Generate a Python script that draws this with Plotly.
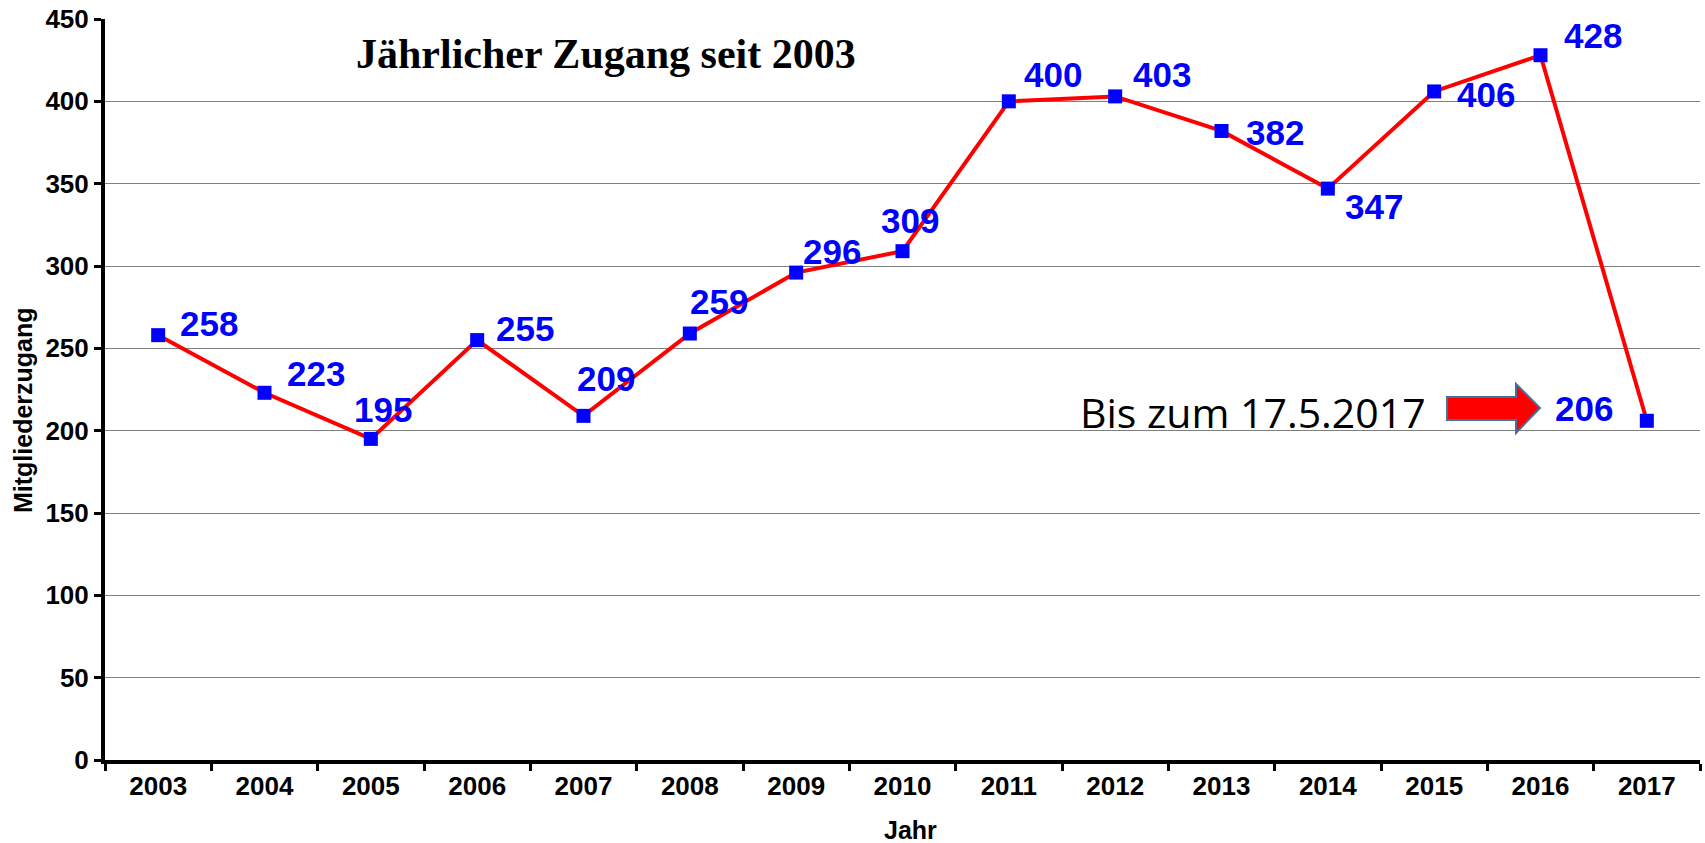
import plotly.graph_objects as go

years = ["2003", "2004", "2005", "2006", "2007", "2008", "2009", "2010",
         "2011", "2012", "2013", "2014", "2015", "2016", "2017"]
zugang = [258, 223, 195, 255, 209, 259, 296, 309, 400, 403, 382, 347, 406, 428, 206]
y_ticks = [0, 50, 100, 150, 200, 250, 300, 350, 400, 450]

title_text = "Jährlicher Zugang seit 2003"
note_text = "Bis zum 17.5.2017"
x_title = "Jahr"
y_title = "Mitgliederzugang"

# pixel offsets of the value labels relative to their points (dx right, dy up)
label_offsets = [(51, 12), (51, 19), (12, 29), (48, 12), (22, 37), (29, 32), (36, 21),
                 (7, 31), (44, 27), (47, 22), (53, -2), (46, -18), (52, -3), (52, 20),
                 (-63, 12)]

W, H = 1705, 843
L, R, T, B = 105, 5, 19, 83
PW, PH = W - L - R, H - T - B


def px(xp):
    return (xp - L) / PW


def py(yp):
    return (H - B - yp) / PH


fig = go.Figure()
fig.add_trace(go.Scatter(
    x=years, y=zugang, mode="lines+markers",
    line=dict(color="#FF0000", width=4),
    marker=dict(symbol="square", size=14, color="#0000FF", line=dict(width=0)),
    hoverinfo="x+y", showlegend=False,
))

annotations = []
for i, (v, (dx, dy)) in enumerate(zip(zugang, label_offsets)):
    annotations.append(dict(
        x=i, y=v, xref="x", yref="y", text=f"<b>{v}</b>", showarrow=False,
        xanchor="center", yanchor="middle", xshift=dx, yshift=dy,
        font=dict(family="Liberation Sans, Arial", size=35, color="#0000FF"),
    ))

annotations.append(dict(
    x=px(606), y=py(54), xref="paper", yref="paper", text=f"<b>{title_text}</b>",
    showarrow=False, xanchor="center", yanchor="middle",
    font=dict(family="Liberation Serif, Times New Roman", size=42, color="#000000"),
))
annotations.append(dict(
    x=px(1428), y=py(412), xref="paper", yref="paper", text=note_text,
    showarrow=False, xanchor="right", yanchor="middle",
    font=dict(family="Open Sans", size=41, color="#000000"),
))
annotations.append(dict(
    x=px(910), y=py(830), xref="paper", yref="paper", text=f"<b>{x_title}</b>",
    showarrow=False, xanchor="center", yanchor="middle",
    font=dict(family="Liberation Sans, Arial", size=25, color="#000000"),
))
annotations.append(dict(
    x=px(23), y=py(410), xref="paper", yref="paper", text=f"<b>{y_title}</b>",
    showarrow=False, xanchor="center", yanchor="middle", textangle=-90,
    font=dict(family="Liberation Sans, Arial", size=25, color="#000000"),
))

# block arrow pointing at the 2017 value
ax = [1447, 1516, 1516, 1540, 1516, 1516, 1447]
ay = [397, 397, 384, 408, 433, 420, 420]
path = "M " + " L ".join(f"{px(a):.5f},{py(b):.5f}" for a, b in zip(ax, ay)) + " Z"
shapes = [dict(type="path", xref="paper", yref="paper", path=path,
               fillcolor="#FF0000", line=dict(color="#41719C", width=2))]

fig.update_layout(
    width=W, height=H,
    margin=dict(l=L, r=R, t=T, b=B),
    paper_bgcolor="#FFFFFF", plot_bgcolor="#FFFFFF",
    annotations=annotations, shapes=shapes,
    xaxis=dict(
        type="category", tickson="boundaries", ticks="outside", ticklen=7,
        tickwidth=3, tickcolor="#000000", showline=True, linewidth=4,
        linecolor="#000000", showgrid=False, zeroline=False,
        tickfont=dict(family="Liberation Sans, Arial", size=26, color="#000000", weight="bold"),
        range=[-0.5, len(years) - 0.5],
    ),
    yaxis=dict(
        range=[0, 450], tickvals=y_ticks, ticks="outside", ticklen=7, tickwidth=3,
        tickcolor="#000000", showline=True, linewidth=4, linecolor="#000000",
        showgrid=True, gridcolor="#808080", gridwidth=1, zeroline=False,
        tickfont=dict(family="Liberation Sans, Arial", size=26, color="#000000", weight="bold"),
    ),
)

fig.write_html("out.html", config={"displayModeBar": False},
               post_script="document.body.style.margin='0';")
